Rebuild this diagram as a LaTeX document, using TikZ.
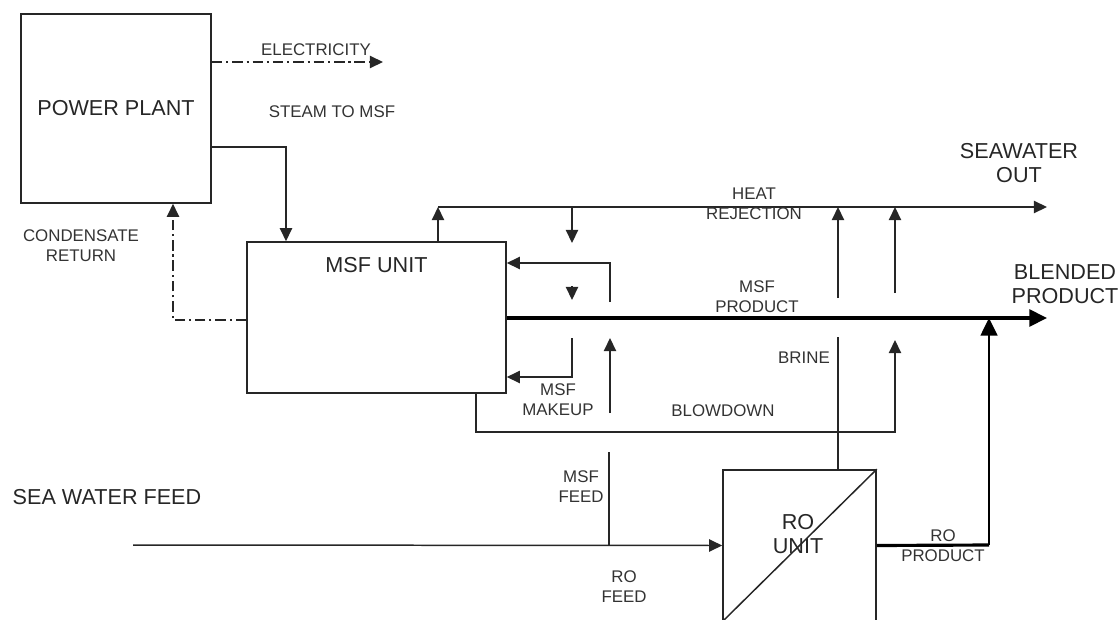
\documentclass[tikz,border=0pt]{standalone}
\usepackage{fontspec}
\setmainfont{Liberation Sans}
\usetikzlibrary{arrows.meta}
\tikzset{
  blok/.style    = {rectangle, draw=black!85, line width=0.9pt, align=center,
                    inner sep=0pt},
  natpis/.style  = {align=center, font=\fontsize{9.6}{11.5}\selectfont,
                    text=black!80, inner sep=1pt},
  veliki/.style  = {align=center, font=\fontsize{12.3}{13.8}\selectfont,
                    text=black!85, inner sep=1pt},
  linija/.style  = {draw=black!85, line width=0.85pt},
  cev/.style     = {linija, -{Triangle[length=7.5pt,width=7pt]}},
  cevis/.style   = {cev, dash pattern=on 6pt off 2.2pt on 1.2pt off 2.2pt},
  cevdeb/.style  = {draw=black, line width=2pt, -{Triangle[length=10pt,width=9.5pt]}},
}

\begin{document}
\begin{tikzpicture}[x=0.02cm, y=-0.02cm]
  \useasboundingbox (0,0) rectangle (1119,619);

  % blokovi
  \node[blok, veliki, minimum width=3.8cm, minimum height=3.78cm] (pp) at (116,108.5) {POWER PLANT};
  \node[blok, minimum width=5.18cm, minimum height=3.02cm] (msf) at (376.5,317.5) {};
  \node[veliki] (msfnaziv) at (376.5,265) {MSF UNIT};
  \node[blok, minimum width=3.06cm, minimum height=3.02cm] (ro) at (799.5,545.5) {};
  \draw[linija] (ro.south west) -- (ro.north east);
  \node[veliki] (ronaziv) at (798,534) {RO\\UNIT};

  % tacke loma
  \coordinate (elkraj)    at (383,62);
  \coordinate (paraugao)  at (286,147);
  \coordinate (kondugao)  at (173,320);
  \coordinate (hrpoc)     at (438,207);
  \coordinate (morekraj)  at (1047,207);
  \coordinate (mesano)    at (1047,318);
  \coordinate (dop1)      at (572,207);
  \coordinate (dop1b)     at (572,243);
  \coordinate (dop2)      at (572,286);
  \coordinate (dop2b)     at (572,300);
  \coordinate (dop3)      at (572,338);
  \coordinate (dop3b)     at (572,377);
  \coordinate (pov1)      at (610,302);
  \coordinate (pov1b)     at (610,263);
  \coordinate (pov2)      at (610,413);
  \coordinate (pov2b)     at (610,338);
  \coordinate (gore1)     at (838,298);
  \coordinate (gore2)     at (895,293);
  \coordinate (slanica)   at (838,337);
  \coordinate (odsolj)    at (476,432);
  \coordinate (odsoljkraj) at (895,432);
  \coordinate (odsoljvrh) at (895,340);
  \coordinate (ulaz)      at (133,545);
  \coordinate (msfulaz)   at (609,452);
  \coordinate (roprod)    at (989,545);

  % tokovi
  \draw[cevis] (pp.east |- elkraj) -- (elkraj);
  \draw[cev] (pp.east |- paraugao) -- (paraugao) -- (paraugao |- msf.north);
  \draw[cevis] (msf.west |- kondugao) -- (kondugao) -- (kondugao |- pp.south);

  \draw[cev] (msf.north -| hrpoc) -- (hrpoc);
  \draw[cev] (hrpoc) -- (morekraj);
  \draw[cev] (dop1) -- (dop1b);
  \draw[cev] (dop2) -- (dop2b);
  \draw[cev] (dop3) -- (dop3b) -- (msf.east |- dop3b);
  \draw[cev] (pov1) -- (pov1b) -- (msf.east |- pov1b);
  \draw[cev] (pov2) -- (pov2b);
  \draw[cev] (gore1) -- (gore1 |- hrpoc);
  \draw[cev] (gore2) -- (gore2 |- hrpoc);

  \draw[cevdeb] (msf.east |- mesano) -- (mesano);
  \draw[linija] (slanica) -- (slanica |- ro.north);
  \draw[cev] (msf.south -| odsolj) -- (odsolj) -- (odsoljkraj) -- (odsoljvrh);

  \draw[cev] (ulaz) -- (ro.west);
  \draw[linija] (msfulaz) -- (msfulaz |- ro.west);
  \draw[draw=black, line width=1.8pt] (ro.east) -- (roprod);
  \draw[draw=black, line width=1.3pt, -{Triangle[length=10pt,width=9.5pt]}] (roprod) -- (roprod |- mesano);

  % natpisi
  \node[natpis] (elektr)  at (316,50)  {ELECTRICITY};
  \node[natpis] (para)    at (332,112) {STEAM TO MSF};
  \node[natpis] (kond)    at (81,246)  {CONDENSATE\\RETURN};
  \node[natpis] (toplota) at (754,204) {HEAT\\REJECTION};
  \node[natpis] (msfprod) at (757,297) {MSF\\PRODUCT};
  \node[natpis] (brine)   at (804,358) {BRINE};
  \node[natpis] (dopuna)  at (558,400) {MSF\\MAKEUP};
  \node[natpis] (blowdn)  at (723,411) {BLOWDOWN};
  \node[natpis] (msffeed) at (581,487) {MSF\\FEED};
  \node[natpis] (rofeed)  at (624,587) {RO\\FEED};
  \node[natpis] (roprodl) at (943,546) {RO\\PRODUCT};
  \node[veliki] (seaout)  at (1019,163) {SEAWATER\\OUT};
  \node[veliki] (blend)   at (1065,284) {BLENDED\\PRODUCT};
  \node[veliki] (seafeed) at (107,497) {SEA WATER FEED};
\end{tikzpicture}
\end{document}
